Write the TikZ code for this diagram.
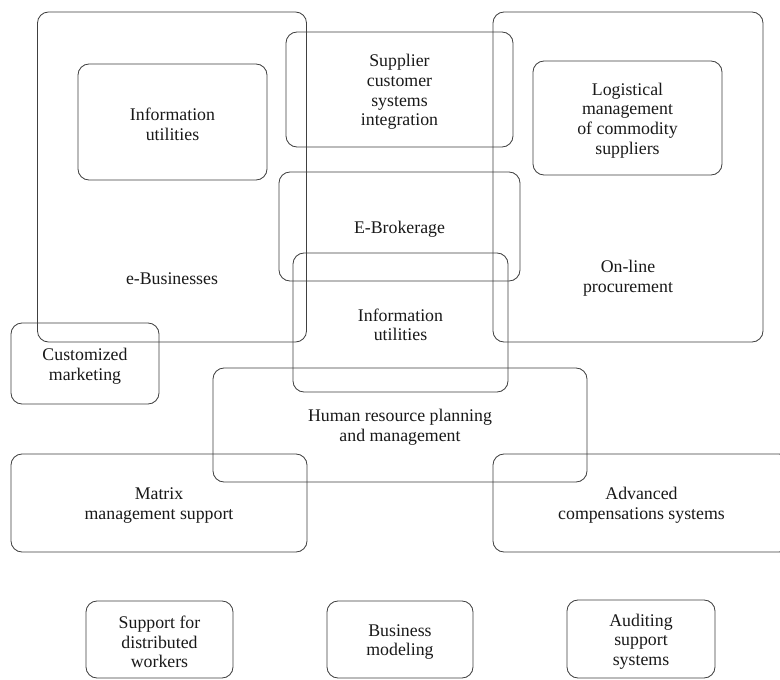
\documentclass[tikz,border=0pt]{standalone}
\usepackage{fontspec}
\setmainfont{Liberation Serif}
\begin{document}
\begin{tikzpicture}[x=1pt, y=-1pt,
  txt/.style={align=center, inner sep=0pt, text=black!90,
    font=\fontsize{17.8}{19.6}\selectfont},
  box/.style={draw=black!75, line width=0.85pt, rounded corners=11pt, inner sep=0pt},
  lbl/.style={txt, yshift=-2.5pt}]
\useasboundingbox (0,0) rectangle (780,680);
\fill[white] (0,0) rectangle (780,680);
\begin{scope}
\clip (0,0) rectangle (780,680);
% large grouping boxes
\node[box, minimum width=269pt, minimum height=330pt] (ebiz) at (172,177) {};
\node[lbl] (ebizlbl) at (172,276) {e-Businesses};
\node[box, minimum width=270pt, minimum height=330pt] (proc) at (628,177) {};
\node[lbl] (proclbl) at (628,276) {On-line\\procurement};
% inner boxes
\node[box, minimum width=189pt, minimum height=116pt] (infoA) at (172.5,122) {};
\node[lbl] (infoAlbl) at (infoA) {Information\\utilities};
\node[box, minimum width=189pt, minimum height=114pt] (logi) at (627.5,118) {};
\node[lbl] (logilbl) at (logi) {Logistical\\management\\of commodity\\suppliers};
% middle column
\node[box, minimum width=227pt, minimum height=115pt] (supp) at (399.5,89.5) {};
\node[lbl] (supplbl) at (supp) {Supplier\\customer\\systems\\integration};
\node[box, minimum width=241pt, minimum height=109pt] (ebrok) at (399.5,226.5) {};
\node[lbl] (ebroklbl) at (ebrok) {E-Brokerage};
\node[box, minimum width=215pt, minimum height=139pt] (infoB) at (400.5,322.5) {};
\node[lbl] (infoBlbl) at (infoB) {Information\\utilities};
\node[box, minimum width=148pt, minimum height=81pt] (cust) at (85,363.5) {};
\node[lbl] (custlbl) at (cust) {Customized\\marketing};
\node[box, minimum width=374pt, minimum height=114pt] (hr) at (400,425) {};
\node[lbl] (hrlbl) at (hr) {Human resource planning\\and management};
\node[box, minimum width=296pt, minimum height=98pt] (matrix) at (159,503) {};
\node[lbl] (matrixlbl) at (matrix) {Matrix\\management support};
\node[box, minimum width=297pt, minimum height=98pt] (adv) at (641.5,503) {};
\node[lbl] (advlbl) at (adv) {Advanced\\compensations systems};
% bottom row
\node[box, minimum width=147pt, minimum height=77pt] (dist) at (159.5,639.5) {};
\node[lbl] (distlbl) at (dist) {Support for\\distributed\\workers};
\node[box, minimum width=146pt, minimum height=77pt] (bizm) at (400,639.5) {};
\node[lbl] (bizmlbl) at (bizm) {Business\\modeling};
\node[box, minimum width=148pt, minimum height=78pt] (audit) at (641,639) {};
\node[lbl] (auditlbl) at (audit) {Auditing\\support\\systems};
\end{scope}
\end{tikzpicture}
\end{document}
